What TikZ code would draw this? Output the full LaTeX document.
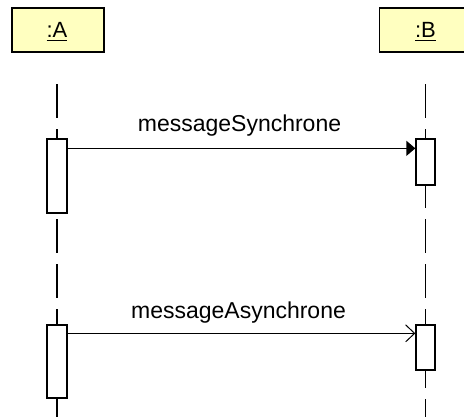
\documentclass[tikz,border=0pt]{standalone}
\usepackage{fontspec}
\setmainfont{Liberation Sans}
\usetikzlibrary{arrows.meta,calc}
\definecolor{objfill}{RGB}{255,255,192}
\newcommand{\myul}[1]{{\setbox0\hbox{#1}\rlap{\rule[-4pt]{\wd0}{1.3pt}}\box0}}
\begin{document}
\begin{tikzpicture}[x=1pt,y=-1pt,
 obj/.style={draw=black, line width=1.6pt, fill=objfill, minimum width=92pt, minimum height=44pt, inner sep=0pt},
 objlbl/.style={font=\fontsize{22}{26}\selectfont, anchor=base, inner sep=0pt},
 act/.style={draw=black, line width=1.3pt, fill=white, minimum width=19pt, inner sep=0pt},
 life/.style={line width=1.3pt, dash pattern=on 33.5pt off 11.5pt},
 msg/.style={line width=1.3pt},
 lbl/.style={font=\fontsize{23}{27}\selectfont, anchor=base, inner sep=0pt}]
\useasboundingbox (0,0) rectangle (464,416);
% objects
\node[obj] (A) at (58,30) {};
\node[obj] (B) at (425.5,30) {};
\node[objlbl] (Alab) at (57,37) {\myul{:A}};
\node[objlbl] (Blab) at (425.5,37) {\myul{:B}};
% lifelines
\coordinate (Atop) at (57,84);
\coordinate (Abot) at (57,430);
\coordinate (Btop) at (425.5,84);
\coordinate (Bbot) at (425.5,430);
\draw[life] (Atop) -- (Abot);
\draw[life] (Btop) -- (Bbot);
% activations
\node[act, minimum width=20pt, minimum height=74pt] (A1) at (57,176) {};
\node[act, minimum height=46pt] (B1) at (425.5,162) {};
\node[act, minimum width=20pt, minimum height=73pt] (A2) at (57,361.5) {};
\node[act, minimum height=45pt] (B2) at (425.5,347.5) {};
% messages
\draw[msg, -{Triangle[length=9pt,width=15pt]}] ($(A1.north east)+(0,10)$) -- ($(B1.north west)+(0,10)$)
  node[lbl, midway, xshift=-2pt, yshift=17pt] {messageSynchrone};
\draw[msg, -{Straight Barb[length=9pt,width=17pt,line width=1pt]}] ($(A2.north east)+(0,9)$) -- ($(B2.north west)+(0,9)$)
  node[lbl, midway, xshift=-3pt, yshift=15pt] {messageAsynchrone};
\end{tikzpicture}
\end{document}
